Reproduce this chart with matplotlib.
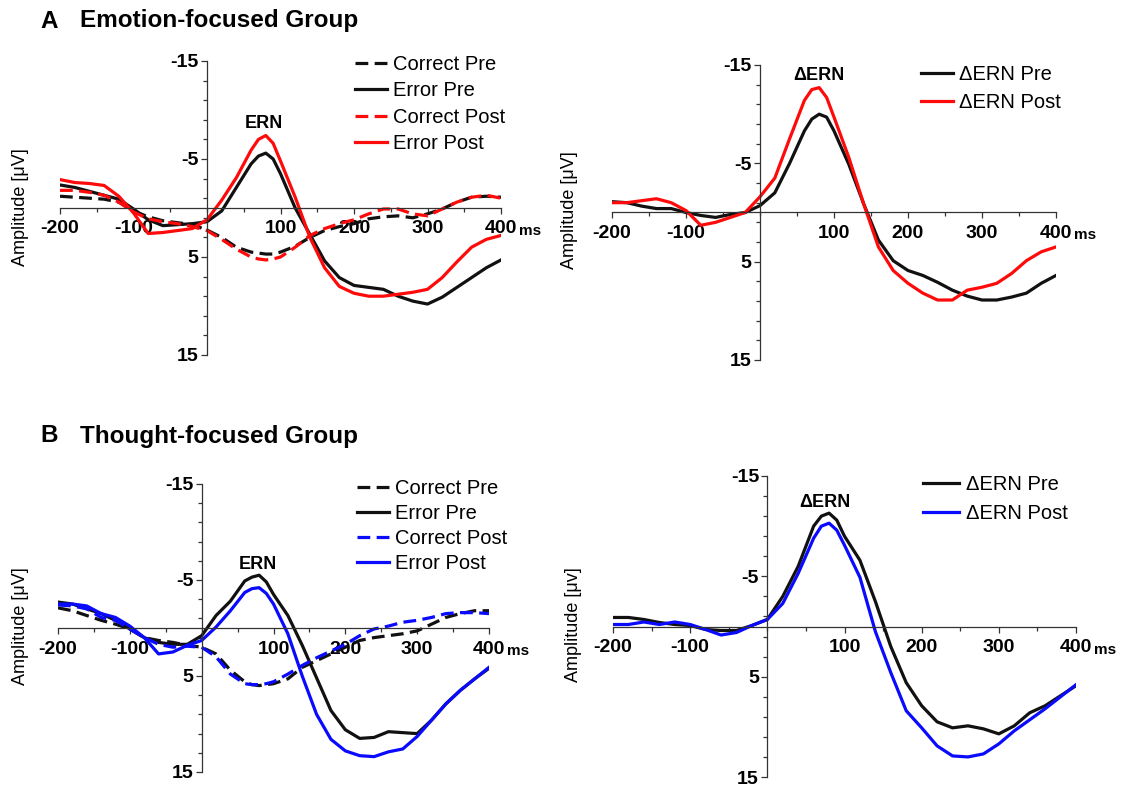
import numpy as np
import matplotlib
matplotlib.use("Agg")
import matplotlib.pyplot as plt
from matplotlib.ticker import FixedLocator, MultipleLocator

plt.rcParams['font.family'] = ['Liberation Sans', 'DejaVu Sans']

# ---------------- data ----------------
t = [-200, -180, -160, -140, -120, -100, -80, -60, -40, -20, 0, 20, 40, 60, 70, 80, 90, 100,
     120, 140, 160, 180, 200, 220, 240, 260, 280, 300, 320, 340, 360, 380, 400]

# A: Emotion-focused group
a_correct_pre = [-1.2, -1.1, -1.0, -0.9, -0.6, 0.3, 0.9, 1.3, 1.5, 1.7, 2.25, 3.0, 4.0, 4.5, 4.6, 4.7, 4.7, 4.5,
                 3.9, 3.0, 2.3, 1.9, 1.6, 1.1, 0.9, 0.8, 1.0, 0.6, 0.1, -0.6, -1.1, -1.2, -1.1]
a_error_pre = [-2.35, -2.1, -1.7, -1.3, -0.9, 0.1, 1.2, 1.8, 1.7, 1.6, 1.4, 0.3, -2.1, -4.5, -5.3, -5.6, -5.0, -3.5,
               0.0, 2.7, 5.4, 7.1, 7.9, 8.1, 8.3, 9.0, 9.5, 9.8, 9.1, 8.1, 7.1, 6.1, 5.3]
a_correct_post = [-1.8, -1.8, -1.6, -1.3, -0.6, 0.4, 1.1, 1.4, 1.6, 1.9, 2.3, 3.2, 4.2, 5.0, 5.2, 5.3, 5.2, 5.0,
                  4.0, 2.8, 2.1, 1.6, 1.2, 0.6, 0.1, 0.1, 0.6, 0.8, 0.1, -0.6, -1.1, -1.3, -1.0]
a_error_post = [-2.9, -2.6, -2.5, -2.3, -1.2, 0.5, 2.6, 2.5, 2.3, 2.1, 1.2, -0.8, -3.1, -5.9, -7.0, -7.4, -6.6, -4.8,
                -1.1, 3.0, 6.1, 8.0, 8.7, 9.0, 9.0, 8.8, 8.6, 8.3, 7.1, 5.5, 4.0, 3.2, 2.8]
a_dern_pre = [-1.1, -1.0, -0.65, -0.4, -0.4, 0.0, 0.3, 0.5, 0.2, 0.0, -0.7, -2.0, -5.0, -8.3, -9.5, -10.0, -9.7, -8.3,
              -4.9, -0.9, 2.8, 4.9, 5.9, 6.4, 7.1, 7.9, 8.5, 8.9, 8.9, 8.6, 8.2, 7.2, 6.4]
a_dern_post = [-1.0, -1.0, -1.2, -1.4, -1.0, -0.2, 1.3, 1.0, 0.5, 0.0, -1.6, -3.5, -7.5, -11.4, -12.5, -12.7, -11.7, -9.7,
               -5.6, -0.9, 3.5, 5.9, 7.2, 8.2, 8.9, 8.9, 7.9, 7.6, 7.2, 6.2, 4.9, 4.0, 3.5]

# B: Thought-focused group
b_correct_pre = [-2.1, -1.8, -1.3, -0.8, -0.4, 0.1, 1.0, 1.3, 1.5, 1.8, 2.0, 2.7, 4.4, 5.6, 5.9, 6.0, 5.9, 5.8,
                 5.3, 4.1, 3.4, 2.7, 2.0, 1.3, 1.0, 0.8, 0.6, 0.3, -0.4, -1.1, -1.5, -1.8, -1.8]
b_error_pre = [-2.7, -2.5, -2.0, -1.5, -0.8, 0.1, 1.0, 1.5, 1.7, 1.7, 0.8, -1.3, -2.8, -4.9, -5.3, -5.5, -4.8, -3.5,
               -1.3, 1.8, 5.2, 8.6, 10.6, 11.5, 11.4, 10.8, 10.9, 11.0, 9.6, 7.9, 6.5, 5.3, 4.2]
b_correct_post = [-2.4, -2.3, -2.0, -1.1, -0.8, 0.1, 1.0, 1.7, 2.0, 1.9, 2.0, 3.0, 4.8, 5.8, 5.9, 5.9, 5.8, 5.6,
                  4.8, 3.9, 3.1, 2.4, 1.7, 0.8, 0.1, -0.2, -0.6, -0.8, -1.1, -1.5, -1.6, -1.6, -1.5]
b_error_post = [-2.5, -2.5, -2.3, -1.5, -1.1, -0.2, 1.0, 2.7, 2.5, 1.8, 1.3, -0.1, -1.8, -3.7, -4.1, -4.2, -3.6, -2.5,
                0.6, 5.0, 9.0, 11.6, 12.8, 13.3, 13.4, 12.9, 12.6, 11.3, 9.6, 7.9, 6.5, 5.3, 4.1]
b_dern_pre = [-0.9, -0.9, -0.7, -0.4, -0.2, -0.1, 0.3, 0.4, 0.4, -0.1, -0.7, -3.0, -6.0, -10.0, -11.0, -11.3, -10.6, -9.0,
              -6.6, -2.5, 2.0, 5.6, 7.9, 9.5, 10.1, 9.9, 10.2, 10.7, 9.9, 8.6, 7.9, 6.9, 5.9]
b_dern_post = [-0.2, -0.2, -0.45, -0.2, -0.45, -0.2, 0.3, 0.85, 0.6, -0.1, -0.7, -2.3, -5.3, -8.8, -10.0, -10.3, -9.6, -8.1,
               -4.9, 0.5, 4.6, 8.4, 10.1, 11.9, 12.9, 13.0, 12.7, 11.7, 10.4, 9.3, 8.2, 7.0, 5.8]

x_ticks = [-200, -100, 100, 200, 300, 400]
y_ticks = [-15, -5, 5, 15]

RED = '#ff0a0a'
BLUE = '#0a0aff'
BLACK = '#111111'

W, H = 1124, 787
fig = plt.figure(figsize=(W / 100, H / 100), dpi=100)

TICK_FS = 14
LEG_FS = 14.5


def make_ax(left, right, top, bottom):
    ax = fig.add_axes([left / W, 1 - bottom / H, (right - left) / W, (bottom - top) / H])
    ax.set_xlim(-200, 400)
    ax.set_ylim(15, -15)
    for s in ['top', 'right']:
        ax.spines[s].set_visible(False)
    ax.spines['left'].set_position(('data', 0))
    ax.spines['bottom'].set_position(('data', 0))
    for s in ['left', 'bottom']:
        ax.spines[s].set_linewidth(0.9)
        ax.spines[s].set_color('#333333')
    ax.xaxis.set_major_locator(FixedLocator(x_ticks))
    ax.xaxis.set_minor_locator(MultipleLocator(50))
    ax.yaxis.set_major_locator(FixedLocator(y_ticks))
    ax.yaxis.set_minor_locator(FixedLocator(np.arange(-15, 16, 2)))
    ax.set_xticklabels([str(v) for v in x_ticks], fontsize=TICK_FS, fontweight='bold')
    ax.set_yticklabels([str(v) for v in y_ticks], fontsize=TICK_FS, fontweight='bold')
    ax.tick_params(axis='x', which='major', direction='out', length=4, width=0.9, pad=5, colors='#333333',
                   labelcolor='black')
    ax.tick_params(axis='x', which='minor', direction='out', length=3, width=0.9, colors='#333333')
    ax.tick_params(axis='y', which='major', direction='out', length=4.5, width=0.9, pad=1.5, colors='#333333',
                   labelcolor='black')
    ax.tick_params(axis='y', which='minor', direction='out', length=3, width=0.9, colors='#333333')
    ax.patch.set_alpha(0)
    ax.annotate('ms', xy=(400, 0), xycoords='data', xytext=(18, -27), textcoords='offset pixels',
                ha='left', va='baseline', fontsize=11, fontweight='bold')
    return ax


LW = 2.3
DASH = (0, (4, 2))

# ---- Panel A left ----
ax1 = make_ax(60, 501, 61, 355)
l1, = ax1.plot(t, a_correct_pre, color=BLACK, lw=LW, ls=DASH, label='Correct Pre')
l2, = ax1.plot(t, a_error_pre, color=BLACK, lw=LW, label='Error Pre')
l3, = ax1.plot(t, a_correct_post, color=RED, lw=LW, ls=DASH, label='Correct Post')
l4, = ax1.plot(t, a_error_post, color=RED, lw=LW, label='Error Post')
ax1.text(77, -8.6, 'ERN', ha='center', va='center', fontsize=13, fontweight='bold')
fig.legend(handles=[l1, l2, l3, l4], loc='upper left', bbox_to_anchor=(355 / W, 1 - 55 / H),
           bbox_transform=fig.transFigure, frameon=False, fontsize=LEG_FS, handlelength=1.6,
           handletextpad=0.3, labelspacing=0.37, borderpad=0, borderaxespad=0)

# ---- Panel A right ----
ax2 = make_ax(612, 1056, 65, 360)
m1, = ax2.plot(t, a_dern_pre, color=BLACK, lw=LW, label='ΔERN Pre')
m2, = ax2.plot(t, a_dern_post, color=RED, lw=LW, label='ΔERN Post')
ax2.text(80, -13.9, 'ΔERN', ha='center', va='center', fontsize=13, fontweight='bold')
fig.legend(handles=[m1, m2], loc='upper left', bbox_to_anchor=(921 / W, 1 - 65 / H),
           bbox_transform=fig.transFigure, frameon=False, fontsize=LEG_FS, handlelength=1.6,
           handletextpad=0.3, labelspacing=0.47, borderpad=0, borderaxespad=0)

# ---- Panel B left ----
ax3 = make_ax(58, 489, 484, 772)
n1, = ax3.plot(t, b_correct_pre, color=BLACK, lw=LW, ls=DASH, label='Correct Pre')
n2, = ax3.plot(t, b_error_pre, color=BLACK, lw=LW, label='Error Pre')
n3, = ax3.plot(t, b_correct_post, color=BLUE, lw=LW, ls=DASH, label='Correct Post')
n4, = ax3.plot(t, b_error_post, color=BLUE, lw=LW, label='Error Post')
ax3.text(78, -6.6, 'ERN', ha='center', va='center', fontsize=13, fontweight='bold')
fig.legend(handles=[n1, n2, n3, n4], loc='upper left', bbox_to_anchor=(357 / W, 1 - 479 / H),
           bbox_transform=fig.transFigure, frameon=False, fontsize=LEG_FS, handlelength=1.6,
           handletextpad=0.3, labelspacing=0.3, borderpad=0, borderaxespad=0)

# ---- Panel B right ----
ax4 = make_ax(613, 1076, 476, 777)
p1, = ax4.plot(t, b_dern_pre, color=BLACK, lw=LW, label='ΔERN Pre')
p2, = ax4.plot(t, b_dern_post, color=BLUE, lw=LW, label='ΔERN Post')
ax4.text(74, -12.4, 'ΔERN', ha='center', va='center', fontsize=13, fontweight='bold')
fig.legend(handles=[p1, p2], loc='upper left', bbox_to_anchor=(923 / W, 1 - 475 / H),
           bbox_transform=fig.transFigure, frameon=False, fontsize=LEG_FS, handlelength=1.8,
           handletextpad=0.35, labelspacing=0.52, borderpad=0, borderaxespad=0)

# y labels
YL_FS = 13
fig.text(21 / W, 1 - 207 / H, 'Amplitude [μV]', rotation=90, ha='center', va='center', fontsize=YL_FS)
fig.text(570 / W, 1 - 210 / H, 'Amplitude [μV]', rotation=90, ha='center', va='center', fontsize=YL_FS)
fig.text(21 / W, 1 - 626 / H, 'Amplitude [μV]', rotation=90, ha='center', va='center', fontsize=YL_FS)
fig.text(573 / W, 1 - 625 / H, 'Amplitude [μv]', rotation=90, ha='center', va='center', fontsize=YL_FS)

# panel titles
fig.text(40 / W, 1 - 21 / H, 'A', ha='left', va='center', fontsize=17.5, fontweight='bold')
fig.text(80 / W, 1 - 21 / H, 'Emotion-focused Group', ha='left', va='center', fontsize=17.5, fontweight='bold')
fig.text(40 / W, 1 - 436 / H, 'B', ha='left', va='center', fontsize=17.5, fontweight='bold')
fig.text(80 / W, 1 - 436 / H, 'Thought-focused Group', ha='left', va='center', fontsize=17.5, fontweight='bold')

fig.savefig('out.png', dpi=100, facecolor='white')
